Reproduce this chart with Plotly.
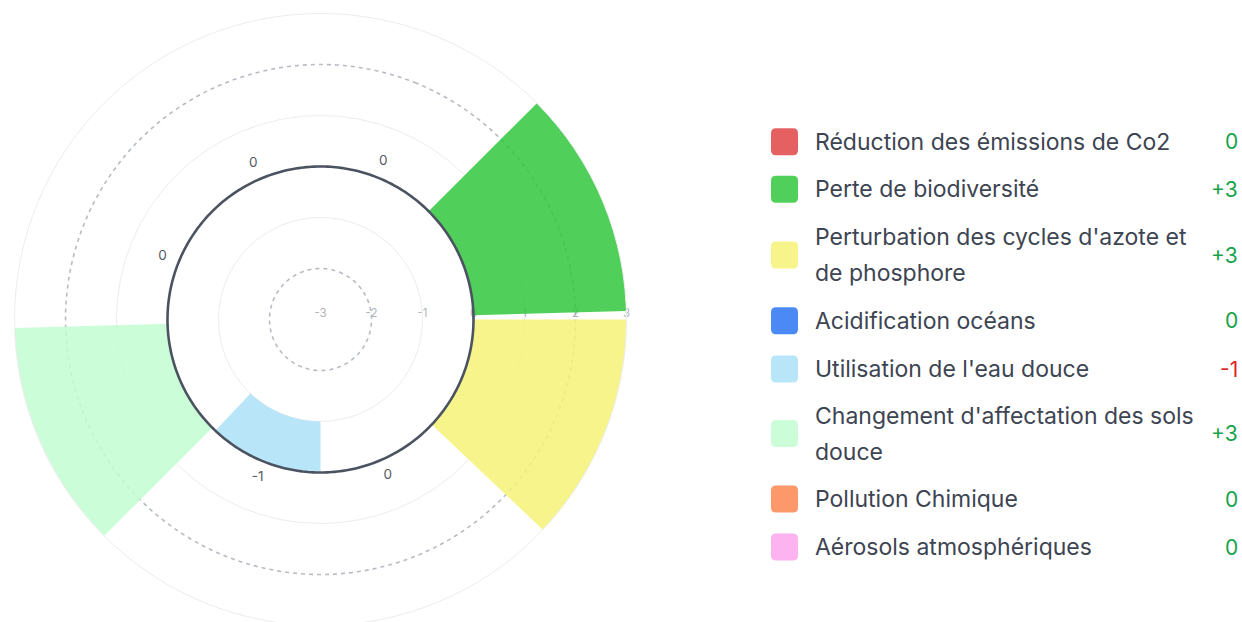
import plotly.graph_objects as go
import numpy as np

# ---------------- data ----------------
categories = [
    "Réduction des émissions de Co2",
    "Perte de biodiversité",
    "Perturbation des cycles d'azote et de phosphore",
    "Acidification océans",
    "Utilisation de l'eau douce",
    "Changement d'affectation des sols douce",
    "Pollution Chimique",
    "Aérosols atmosphériques",
]
legend_lines = [
    ["Réduction des émissions de Co2"],
    ["Perte de biodiversité"],
    ["Perturbation des cycles d'azote et", "de phosphore"],
    ["Acidification océans"],
    ["Utilisation de l'eau douce"],
    ["Changement d'affectation des sols", "douce"],
    ["Pollution Chimique"],
    ["Aérosols atmosphériques"],
]
values = [0, 3, 3, 0, -1, 3, 0, 0]
colors = [
    "rgba(224,69,69,0.85)",
    "rgba(49,200,61,0.85)",
    "rgba(247,242,120,0.85)",
    "rgba(44,118,243,0.85)",
    "rgba(171,226,247,0.85)",
    "rgba(194,253,210,0.85)",
    "rgba(253,134,80,0.85)",
    "rgba(253,166,237,0.85)",
]
angles = [0, 45, 90, 135, 180, 225, 270, 315]
radial_ticks = [-3, -2, -1, 0, 1, 2, 3]
radial_ticktext = ["-3", "-2", "-1", "0", "1", "2", "3"]


def fmt(v):
    return f"+{v}" if v > 0 else str(v)


value_text = [fmt(v) for v in values]
value_colors = ["#dc2626" if v < 0 else "#16a34a" for v in values]

# ---------------- layout constants ----------------
W, H = 1242, 640          # page is clipped to the 622 px window
CX, CY, R = 320.5, 319.5, 306.0
dom_x = [(CX - R) / W, (CX + R) / W]
dom_y = [(H - (CY + R)) / H, (H - (CY - R)) / H]

circle_theta = np.linspace(0, 360, 361)

fig = go.Figure()

# dashed reference circles (bottom polar)
for rv in (-2, 2):
    fig.add_trace(go.Scatterpolar(
        r=[rv] * len(circle_theta), theta=circle_theta, mode="lines",
        line=dict(color="#b7bcc4", width=1.6, dash="4px,4px"),
        hoverinfo="skip", showlegend=False, subplot="polar"))

# bars (top polar)
fig.add_trace(go.Barpolar(
    r=values, theta=angles, base=[0] * len(values), width=[43.4] * len(values),
    marker=dict(color=colors, line=dict(width=0)),
    hoverinfo="skip", showlegend=False, subplot="polar2"))

# zero circle
fig.add_trace(go.Scatterpolar(
    r=[0] * len(circle_theta), theta=circle_theta, mode="lines",
    line=dict(color="#4b5260", width=2.6),
    hoverinfo="skip", showlegend=False, subplot="polar2"))

# value labels around the chart
fig.add_trace(go.Scatterpolar(
    r=[max(v, 0) + 0.335 for v in values], theta=angles, mode="text",
    text=value_text, textposition="middle center",
    textfont=dict(size=13.5, color="#535a65", family="Inter"),
    cliponaxis=False, hoverinfo="skip", showlegend=False, subplot="polar2"))

common_ang = dict(direction="clockwise", rotation=68.3, showticklabels=False,
                  ticks="", showgrid=False)

fig.update_layout(
    width=W, height=H,
    margin=dict(l=0, r=0, t=0, b=0),
    paper_bgcolor="white",
    showlegend=False,
    hovermode=False,
    polar=dict(
        domain=dict(x=dom_x, y=dom_y),
        bgcolor="white",
        radialaxis=dict(range=[-3, 3], tickvals=radial_ticks, ticktext=radial_ticktext,
                        showgrid=False, showline=False, ticks="", angle=0,
                        side="counterclockwise", tickangle=0,
                        tickfont=dict(size=11.5, color="#b0b4ba", family="Inter")),
        angularaxis=dict(showline=False, **common_ang),
    ),
    polar2=dict(
        domain=dict(x=dom_x, y=dom_y),
        bgcolor="rgba(0,0,0,0)",
        radialaxis=dict(range=[-3, 3], tickvals=[-1, 1], showticklabels=False,
                        showgrid=True, gridcolor="#ececec", gridwidth=1,
                        showline=False, ticks="", angle=0, layer="below traces"),
        angularaxis=dict(showline=True, linecolor="#ececec", linewidth=1, **common_ang),
    ),
)

# ---------------- custom legend ----------------
row_y = [141.7, 189.3, 255.0, 320.7, 369.0, 433.5, 499.0, 547.0]
line_gap = 36.0
sq_x0, sq_x1, sq = 771.0, 798.0, 27.0
rad = 5.0
text_x = 813.0
val_x = 1240.0

shapes = []
annotations = []


def px(x):
    return x / W


def py(y):
    return 1 - y / H


for i, lines in enumerate(legend_lines):
    yc = row_y[i]
    y0, y1 = yc - sq / 2, yc + sq / 2
    x0, x1 = sq_x0, sq_x1
    path = (
        f"M {px(x0 + rad)} {py(y0)} L {px(x1 - rad)} {py(y0)} "
        f"Q {px(x1)} {py(y0)} {px(x1)} {py(y0 + rad)} "
        f"L {px(x1)} {py(y1 - rad)} Q {px(x1)} {py(y1)} {px(x1 - rad)} {py(y1)} "
        f"L {px(x0 + rad)} {py(y1)} Q {px(x0)} {py(y1)} {px(x0)} {py(y1 - rad)} "
        f"L {px(x0)} {py(y0 + rad)} Q {px(x0)} {py(y0)} {px(x0 + rad)} {py(y0)} Z"
    )
    shapes.append(dict(type="path", xref="paper", yref="paper", path=path,
                       fillcolor=colors[i], line=dict(width=0)))
    n = len(lines)
    for j, t in enumerate(lines):
        ly = yc + (j - (n - 1) / 2) * line_gap
        annotations.append(dict(x=px(text_x), y=py(ly), xref="paper", yref="paper",
                                text=t, showarrow=False, xanchor="left", yanchor="middle",
                                font=dict(size=23, color="#3d4452", family="Inter")))
    annotations.append(dict(x=px(val_x), y=py(yc), xref="paper", yref="paper",
                            text=value_text[i], showarrow=False, xanchor="right",
                            yanchor="middle",
                            font=dict(size=21, color=value_colors[i], family="Inter")))

fig.update_layout(shapes=shapes, annotations=annotations)

fig.write_html(
    "out.html",
    config={"displayModeBar": False, "staticPlot": True},
    post_script=(
        "document.body.style.margin='0';"
        "document.body.style.overflow='hidden';"
        "document.documentElement.style.overflow='hidden';"
    ),
)
